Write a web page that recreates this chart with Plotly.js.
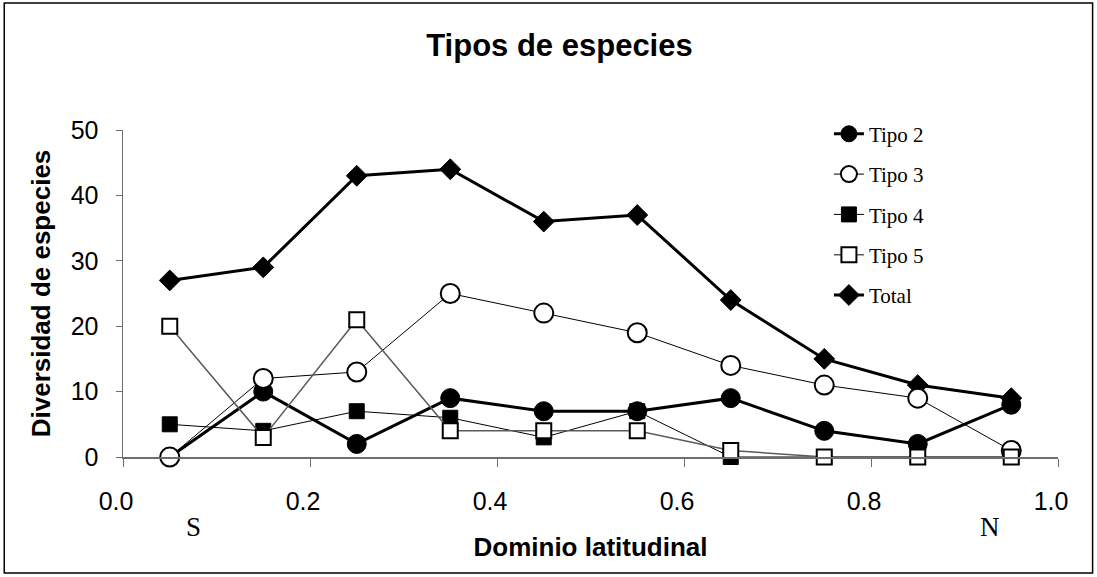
<!DOCTYPE html>
<html>
<head>
<meta charset="utf-8">
<script src="https://cdn.plot.ly/plotly-3.0.1.min.js"></script>
<style>html,body{margin:0;padding:0;background:#fff;}#chart{width:1097px;height:577px;}</style>
</head>
<body>
<div id="chart"></div>
<script>
// Latitudinal domain (bin centres)
const dominio = [0.05, 0.15, 0.25, 0.35, 0.45, 0.55, 0.65, 0.75, 0.85, 0.95];
// Species diversity per type
const tipo2 = [0, 10, 2, 9, 7, 7, 9, 4, 2, 8];
const tipo3 = [0, 12, 13, 25, 22, 19, 14, 11, 9, 1];
const tipo4 = [5, 4, 7, 6, 3, 7, 0, 0, 0, 0];
const tipo5 = [20, 3, 21, 4, 4, 4, 1, 0, 0, 0];
const total = [27, 29, 43, 44, 36, 37, 24, 15, 11, 9];
const xTicks = [0.0, 0.2, 0.4, 0.6, 0.8, 1.0];
const xTickText = ["0.0", "0.2", "0.4", "0.6", "0.8", "1.0"];
const yTicks = [0, 10, 20, 30, 40, 50];

const traces = [
  {x: dominio, y: total, name: "Total", legendrank: 5, legendgroup: "g5",
   mode: "lines+markers", line: {color: "#000", width: 3},
   marker: {symbol: "diamond", size: 16, color: "#000", line: {color: "#000", width: 1}}},
  {x: dominio, y: tipo2, name: "Tipo 2", legendrank: 1, legendgroup: "g1",
   mode: "lines+markers", line: {color: "#000", width: 3},
   marker: {symbol: "circle", size: 19, color: "#000", line: {color: "#000", width: 1}}},
  {x: dominio, y: tipo3, name: "Tipo 3", legendrank: 2, legendgroup: "g2",
   mode: "lines+markers", line: {color: "#000", width: 1},
   marker: {symbol: "circle", size: 19, color: "#fff", line: {color: "#000", width: 2}}},
  {x: dominio, y: tipo4, name: "Tipo 4", legendrank: 3, legendgroup: "g3",
   mode: "lines+markers", line: {color: "#000", width: 1},
   marker: {symbol: "square", size: 15, color: "#000", line: {color: "#000", width: 1}}},
  {x: dominio, y: tipo5, name: "Tipo 5", legendrank: 4, legendgroup: "g4",
   mode: "lines+markers", line: {color: "#5a5a5a", width: 1.5},
   marker: {symbol: "square", size: 15, color: "#fff", line: {color: "#000", width: 2}}}
];
traces.forEach(t => { t.cliponaxis = false; });

const sans = "Liberation Sans, Arial, sans-serif";
const serif = "Liberation Serif, Times New Roman, serif";

const layout = {
  width: 1097, height: 577,
  margin: {l: 123, r: 39, t: 130, b: 120},
  paper_bgcolor: "#fff", plot_bgcolor: "#fff",
  title: {text: "Tipos de especies", x: 0.51, xanchor: "center", y: 0.922, yanchor: "middle",
          font: {family: sans, size: 31, color: "#000", weight: "bold"}},
  xaxis: {
    range: [0, 1], tickvals: xTicks, ticktext: xTickText,
    showgrid: false, zeroline: false, showline: true, linecolor: "#6e6e6e", linewidth: 1.5,
    ticks: "outside", ticklen: 8, tickcolor: "#6e6e6e", tickwidth: 1,
    ticklabelstandoff: 13, ticklabelshift: -7,
    tickfont: {family: sans, size: 25, color: "#000"},
    title: {text: "Dominio latitudinal", standoff: 24, font: {family: sans, size: 26, color: "#000", weight: "bold"}}
  },
  yaxis: {
    range: [0, 50], tickvals: yTicks,
    showgrid: false, zeroline: false, showline: true, linecolor: "#6e6e6e", linewidth: 1.5,
    ticks: "outside", ticklen: 6, tickcolor: "#6e6e6e", tickwidth: 1,
    ticklabelstandoff: 12,
    tickfont: {family: sans, size: 25, color: "#000"},
    title: {text: "Diversidad de especies", standoff: 12, font: {family: sans, size: 26, color: "#000", weight: "bold"}}
  },
  showlegend: true,
  legend: {x: 0.755, xanchor: "left", y: 1.05, yanchor: "top",
           bgcolor: "rgba(0,0,0,0)", borderwidth: 0, tracegroupgap: 10,
           font: {family: serif, size: 21, color: "#000"}},
  annotations: [
    {text: "S", xref: "paper", yref: "paper", x: 0.075, y: -0.214, showarrow: false,
     xanchor: "center", yanchor: "middle", font: {family: serif, size: 27, color: "#000"}},
    {text: "N", xref: "paper", yref: "paper", x: 0.927, y: -0.214, showarrow: false,
     xanchor: "center", yanchor: "middle", font: {family: serif, size: 27, color: "#000"}}
  ],
  shapes: [
    {type: "rect", xref: "paper", yref: "paper", x0: -0.127, x1: 1.037, y0: -0.355, y1: 1.388,
     line: {color: "#000", width: 1.5}, fillcolor: "rgba(0,0,0,0)"}
  ]
};

Plotly.newPlot("chart", traces, layout, {displayModeBar: false, staticPlot: true});
</script>
</body>
</html>
